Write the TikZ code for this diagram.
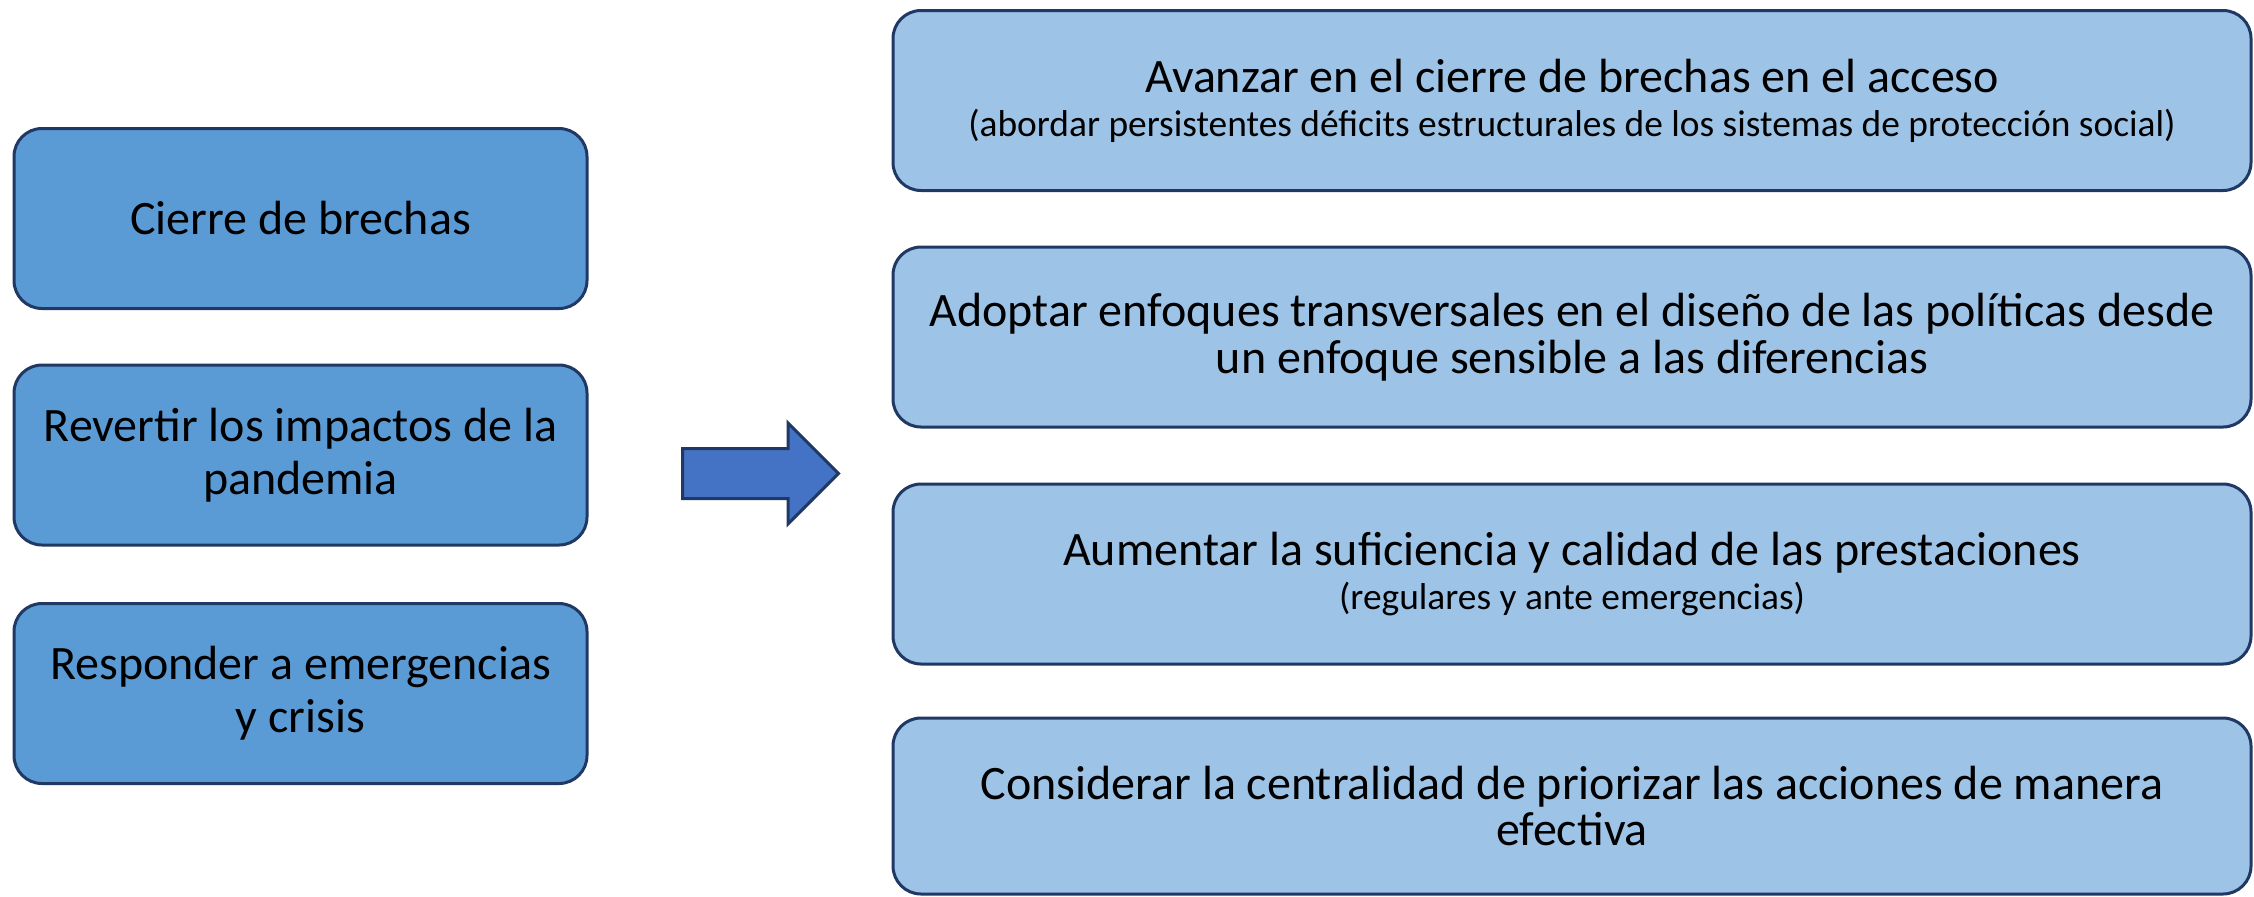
\documentclass[tikz,border=0pt]{standalone}
\usepackage{fontspec}
\setmainfont{Carlito}
\usetikzlibrary{shapes.arrows}
\definecolor{leftblue}{HTML}{5B9BD5}
\definecolor{rightblue}{HTML}{9DC3E6}
\definecolor{arrowblue}{HTML}{4472C4}
\definecolor{edgeblue}{HTML}{1F3864}
\newcommand{\subline}[1]{{\fontsize{18.7}{22}\selectfont #1}}

\begin{document}
\begin{tikzpicture}
        % 结点样式: 左列深蓝色方框, 右列浅蓝色方框
        [x=0.5pt,y=-0.5pt,
        LeftNode/.style={rectangle,rounded corners=14pt,draw=edgeblue,fill=leftblue,line width=1.5pt,
            minimum width=286.5pt,minimum height=90pt,align=center,font=\fontsize{24}{26.5}\selectfont},
        RightNode/.style={rectangle,rounded corners=14pt,draw=edgeblue,fill=rightblue,line width=1.5pt,
            minimum width=679pt,minimum height=90pt,align=center,font=\fontsize{24}{23.3}\selectfont},
        ArrowNode/.style={single arrow,draw=edgeblue,fill=arrowblue,line width=1.5pt,inner xsep=0pt,
            inner ysep=11.75pt,minimum height=78pt,single arrow head extend=12.75pt}]

        % 图片大小
        \useasboundingbox (0,0) rectangle (2254,896);

        % 左列结点
        \node[LeftNode] (l_1) at (300.5,218.5) {Cierre de brechas};
        \node[LeftNode] (l_2) at (300.5,455) {Revertir los impactos de la\\pandemia};
        \node[LeftNode] (l_3) at (300.5,693.5) {Responder a emergencias\\y crisis};

        % 中间箭头
        \node[ArrowNode] (arrow) at (748,473.5) {};

        % 右列结点
        \node[RightNode] (r_1) at (1572,100.5) {Avanzar en el cierre de brechas en el acceso\\[-1.3pt]
            \subline{(abordar persistentes déficits estructurales de los sistemas de protección social)}};
        \node[RightNode] (r_2) at (1572,337) {Adoptar enfoques transversales en el diseño de las políticas desde\\
            un enfoque sensible a las diferencias};
        \node[RightNode] (r_3) at (1572,574) {Aumentar la suficiencia y calidad de las prestaciones\\[-1.3pt]
            \subline{(regulares y ante emergencias)}};
        \node[RightNode,minimum height=88pt] (r_4) at (1572,806) {Considerar la centralidad de priorizar las acciones de manera\\
            efectiva};
\end{tikzpicture}
\end{document}
